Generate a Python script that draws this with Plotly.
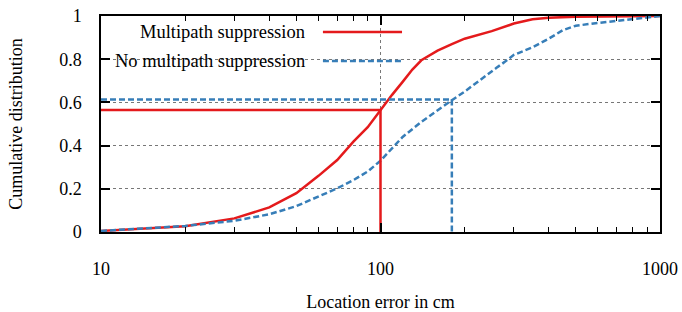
import plotly.graph_objects as go

# ---- data ----
red_x = [10, 20, 30, 40, 50, 60, 70, 80, 90, 100, 110, 120, 130, 140, 150, 160, 180, 200, 250, 300, 350, 400, 500, 700, 1000]
red_y = [0.005, 0.027, 0.063, 0.114, 0.18, 0.26, 0.333, 0.418, 0.485, 0.565, 0.635, 0.695, 0.752, 0.795, 0.82, 0.84, 0.87, 0.895, 0.93, 0.965, 0.985, 0.992, 0.997, 0.999, 1.0]

blue_x = [10, 20, 30, 40, 50, 60, 70, 80, 90, 100, 120, 140, 160, 180, 200, 230, 260, 280, 300, 350, 400, 450, 500, 600, 700, 800, 1000]
blue_y = [0.005, 0.028, 0.052, 0.082, 0.12, 0.163, 0.202, 0.24, 0.28, 0.33, 0.44, 0.51, 0.565, 0.61, 0.65, 0.71, 0.76, 0.79, 0.82, 0.855, 0.895, 0.935, 0.955, 0.968, 0.978, 0.987, 1.0]

red_mark = (100, 0.565)
blue_mark = (180, 0.614)

names = ["Multipath suppression", "No multipath suppression"]
x_ticks = [10, 100, 1000]
x_minor = [20, 30, 40, 50, 60, 70, 80, 90, 200, 300, 400, 500, 600, 700, 800, 900]
y_ticks = [0, 0.2, 0.4, 0.6, 0.8, 1]
y_ticktext = ["0", "0.2", "0.4", "0.6", "0.8", "1"]

RED = "#e41a1c"
BLUE = "#377eb8"
DASH = "6px,3px"
FONT = "Liberation Serif"

fig = go.Figure()
fig.add_trace(go.Scatter(x=red_x, y=red_y, mode="lines", line=dict(color=RED, width=2.5), showlegend=False))
fig.add_trace(go.Scatter(x=blue_x, y=blue_y, mode="lines", line=dict(color=BLUE, width=2.5, dash=DASH), showlegend=False))
fig.add_trace(go.Scatter(x=[x_ticks[0], red_mark[0], red_mark[0]], y=[red_mark[1], red_mark[1], 0],
                         mode="lines", line=dict(color=RED, width=2.5), showlegend=False))
fig.add_trace(go.Scatter(x=[x_ticks[0], blue_mark[0], blue_mark[0]], y=[blue_mark[1], blue_mark[1], 0],
                         mode="lines", line=dict(color=BLUE, width=2.5, dash=DASH), showlegend=False))

# legend box (white, covers grid) and entries
fig.add_shape(type="rect", xref="paper", yref="paper", x0=0.003, x1=0.571, y0=0.727, y1=0.995,
              fillcolor="white", line=dict(width=0), layer="between")
for i, (nm, col, dash) in enumerate([(names[0], RED, "solid"), (names[1], BLUE, DASH)]):
    yy = [0.926, 0.792][i]
    fig.add_annotation(xref="paper", yref="paper", x=0.368, y=yy, text=nm, showarrow=False,
                       xanchor="right", yanchor="middle", font=dict(family=FONT, size=18.5, color="black"))
    fig.add_shape(type="line", xref="paper", yref="paper", x0=0.397, x1=0.5385, y0=yy, y1=yy,
                  line=dict(color=col, width=2.5, dash=dash))

fig.update_xaxes(type="log", range=[1, 3], tickvals=x_ticks, ticktext=[str(v) for v in x_ticks],
                 ticks="inside", ticklen=9, tickwidth=1.5, tickcolor="black",
                 showline=True, linewidth=1.5, linecolor="black", mirror="ticks",
                 showgrid=True, gridcolor="#777", griddash="dot", gridwidth=1,
                 minor=dict(tickvals=x_minor, ticks="inside", ticklen=5, tickwidth=1, tickcolor="black", showgrid=False),
                 ticklabelstandoff=20, zeroline=False, automargin=False, ticklabeloverflow="allow",
                 tickfont=dict(family=FONT, size=18, color="black"),
                 title=dict(text="Location error in cm", font=dict(family=FONT, size=18, color="black"), standoff=28))
fig.update_yaxes(range=[0, 1], tickvals=y_ticks, ticktext=y_ticktext,
                 ticks="inside", ticklen=9, tickwidth=1.5, tickcolor="black",
                 showline=True, linewidth=1.5, linecolor="black", mirror="ticks",
                 showgrid=True, gridcolor="#777", griddash="dot", gridwidth=1,
                 ticklabelstandoff=14, zeroline=False, automargin=False, ticklabeloverflow="allow",
                 tickfont=dict(family=FONT, size=18, color="black"),
                 title=dict(text="Cumulative distribution", font=dict(family=FONT, size=18, color="black"), standoff=32))

fig.update_layout(width=682, height=312, margin=dict(l=101, r=22, t=16, b=80),
                  plot_bgcolor="white", paper_bgcolor="white", showlegend=False,
                  font=dict(family=FONT, size=18, color="black"))

# remove the default 8px page margin so the figure sits at the window's corner
fig.write_html("out.html", config={"displayModeBar": False},
               post_script="document.body.style.margin='0';")
